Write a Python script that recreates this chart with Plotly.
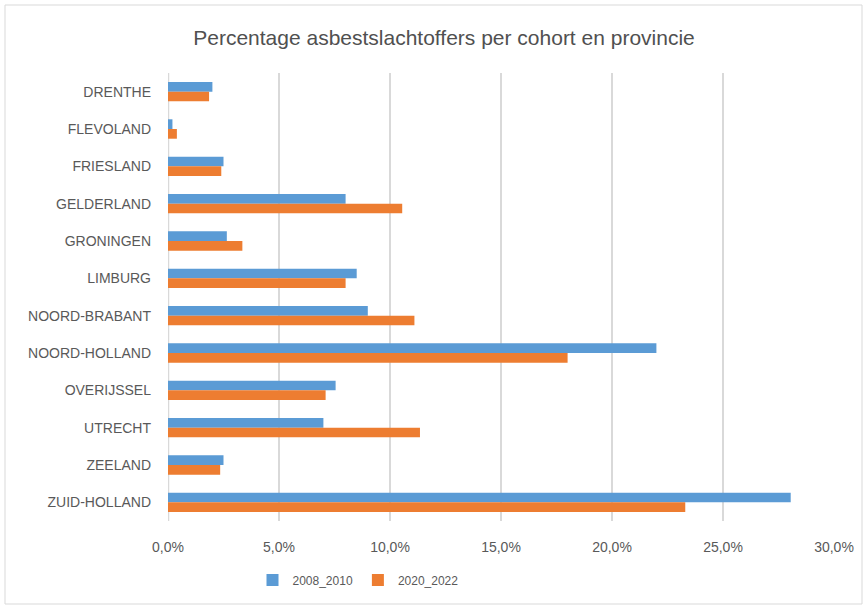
import plotly.graph_objects as go

provinces = ["DRENTHE", "FLEVOLAND", "FRIESLAND", "GELDERLAND", "GRONINGEN", "LIMBURG",
             "NOORD-BRABANT", "NOORD-HOLLAND", "OVERIJSSEL", "UTRECHT", "ZEELAND", "ZUID-HOLLAND"]
cohort_2008_2010 = [2.0, 0.2, 2.5, 8.0, 2.65, 8.5, 9.0, 22.0, 7.55, 7.0, 2.5, 28.05]
cohort_2020_2022 = [1.85, 0.4, 2.4, 10.55, 3.35, 8.0, 11.1, 18.0, 7.1, 11.35, 2.35, 23.3]
x_ticks = [0, 5, 10, 15, 20, 25, 30]
x_tick_labels = ["0,0%", "5,0%", "10,0%", "15,0%", "20,0%", "25,0%", "30,0%"]

FONT = "Liberation Sans, Arial, sans-serif"
GREY = "#595959"

fig = go.Figure()
fig.add_trace(go.Bar(y=provinces, x=cohort_2008_2010, orientation="h", name="2008_2010",
                     marker=dict(color="#5b9bd5", line=dict(width=0))))
fig.add_trace(go.Bar(y=provinces, x=cohort_2020_2022, orientation="h", name="2020_2022",
                     marker=dict(color="#ed7d31", line=dict(width=0))))

W, H = 865, 606
L, R, T, B = 168, 31, 73, 85
pw, ph = W - L - R, H - T - B

def px(xp):
    return (xp - L) / pw

def py(yp):
    return (H - B - yp) / ph

fig.update_layout(
    width=W, height=H,
    margin=dict(l=L, r=R, t=T, b=B),
    paper_bgcolor="white", plot_bgcolor="white",
    barmode="group", bargap=0.48, bargroupgap=0,
    font=dict(family=FONT, color=GREY, size=14),
    title=dict(text="Percentage asbestslachtoffers per cohort en provincie",
               x=444 / W, xref="container", xanchor="center", y=1 - 38 / H, yanchor="middle",
               font=dict(family=FONT, size=21, color="#505050")),
    xaxis=dict(range=[0, 30], tickvals=x_ticks, ticktext=x_tick_labels,
               showgrid=True, gridcolor="#d9d9d9", gridwidth=1.5, zeroline=False,
               showline=False, ticks="", ticklabelstandoff=16,
               tickfont=dict(family=FONT, size=14, color=GREY), fixedrange=True),
    yaxis=dict(autorange="reversed", showgrid=False, zeroline=False, ticks="",
               ticklabelstandoff=16, tickfont=dict(family=FONT, size=14, color=GREY)),
    legend=dict(orientation="h", x=px(358), xanchor="center", y=py(580), yanchor="middle",
                font=dict(family=FONT, size=12, color=GREY), traceorder="normal",
                itemwidth=30),
    showlegend=True,
    shapes=[
        dict(type="rect", xref="paper", yref="paper", x0=px(5), x1=px(862), y0=py(604), y1=py(5),
             line=dict(color="#d9d9d9", width=1), fillcolor="rgba(0,0,0,0)", layer="below"),
        dict(type="line", xref="x", yref="paper", x0=0, x1=0, y0=0, y1=1,
             line=dict(color="#d9d9d9", width=2.5), layer="below"),
    ],
)

fig.write_html("out.html")
